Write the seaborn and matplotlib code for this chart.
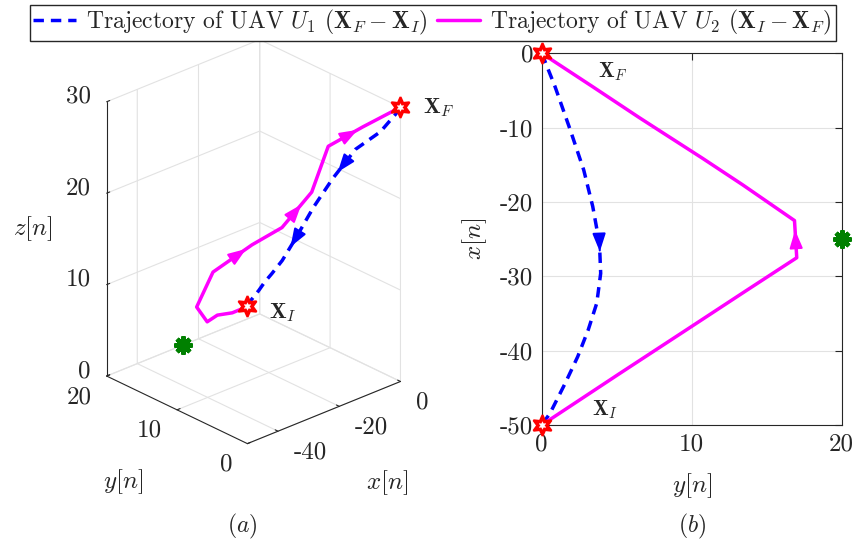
import numpy as np
import matplotlib
matplotlib.use("Agg")
import matplotlib.pyplot as plt
import seaborn as sns
from matplotlib.patches import FancyArrowPatch
from matplotlib.text import Annotation
from mpl_toolkits.mplot3d import proj3d

# UAV U1 trajectory (blue, X_F -> X_I)
u1_x = [0, -1.1, -4.5, -10.3, -15.7, -20.6, -25.6, -29.6, -33.6, -37.2, -40.8, -44.4, -48.4, -50]
u1_y = [0, 0.22, 0.89, 1.9, 2.8, 3.4, 3.85, 3.93, 3.67, 3.1, 2.4, 1.56, 0.56, 0]
u1_z = [30, 29.3, 27.6, 26.1, 23.3, 20.6, 17.6, 15.8, 15.0, 14.8, 14.6, 14.7, 14.9, 15]

# UAV U2 trajectory (magenta, X_I -> X_F)
u2_x = [-50, -43.2, -36.6, -32.1, -27.5, -22.5, -17.7, -14.1, -10.6, -8.65, -4.5, 0]
u2_y = [0, 5.1, 10.1, 13.5, 17.0, 16.85, 13.4, 10.7, 8.0, 6.5, 3.4, 0]
u2_z = [15, 11.5, 8.5, 5.9, 5.6, 8.8, 12.4, 14.8, 19.2, 24.5, 27.2, 30]

pos_i = [-50, 0, 15]
pos_f = [0, 0, 30]
target = [-25, 20, 0]

# direction arrows: (segment index, fraction along the segment)
u1_arrows_3d = [(3, 0.78), (6, 0.35)]
u2_arrows_3d = [(5, 0.85), (7, 0.65), (9, 0.85)]
u1_arrows_2d = [(6, 0.27)]
u2_arrows_2d = [(4, 0.74)]

x3_ticks = [-40, -20, 0]
y3_ticks = [0, 10, 20]
z3_ticks = [0, 10, 20, 30]

lbl_u1 = r"Trajectory of UAV $U_1$ $(\mathbf{X}_F-\mathbf{X}_I)$"
lbl_u2 = r"Trajectory of UAV $U_2$ $(\mathbf{X}_I-\mathbf{X}_F)$"

BLUE = (0, 0, 1)
MAG = (1, 0, 1)
GREEN = (0, 0.5, 0)
GRID = "#e2e2e2"
STAR = (6, 1, 0)
AST = (8, 2, 0)


class Arrow3D(FancyArrowPatch):
    def __init__(self, p0, p1, **kw):
        super().__init__((0, 0), (0, 0), **kw)
        self._verts3d = np.array([p0, p1]).T

    def do_3d_projection(self, renderer=None):
        xs, ys, zs = proj3d.proj_transform(*self._verts3d, self.axes.M)
        self.set_positions((xs[0], ys[0]), (xs[1], ys[1]))
        return np.min(zs)


class Annotation3D(Annotation):
    def __init__(self, text, xyz, **kw):
        super().__init__(text, xy=(0, 0), annotation_clip=False, **kw)
        self._xyz = xyz

    def draw(self, renderer):
        x2, y2, _ = proj3d.proj_transform(*self._xyz, self.axes.M)
        self.xy = (x2, y2)
        super().draw(renderer)


def arrow_ends(xs, ys, zs, seg, t, d=0.04):
    p = np.array([xs, ys, zs], dtype=float).T
    a, b = p[seg], p[seg + 1]
    return a + (t - d) * (b - a), a + t * (b - a)


def arrow_kw(c):
    return dict(arrowstyle="-|>,head_length=0.9,head_width=0.33", mutation_scale=12,
                color=c, lw=1.5, shrinkA=0, shrinkB=0, zorder=6)


def star(ax, *pt, **kw):
    # red hexagram with a small white core
    ax.plot(*[[v] for v in pt], ls="none", marker=STAR, ms=15, mfc="red", mec="red",
            mew=1.5, zorder=8, **kw)
    ax.plot(*[[v] for v in pt], ls="none", marker=STAR, ms=5.5, mfc="white", mec="white",
            mew=0.3, zorder=9, **kw)


sns.set_style("white")
plt.rcParams["font.family"] = ["cmr10", "DejaVu Serif"]
plt.rcParams["mathtext.fontset"] = "cm"
plt.rcParams["axes.unicode_minus"] = False
plt.rcParams["font.size"] = 18
plt.rcParams["grid.color"] = GRID
plt.rcParams["grid.linewidth"] = 0.8

fig = plt.figure(figsize=(8.55, 5.46), dpi=100)

# ---------------- (a) 3D view ----------------
ax3 = fig.add_axes([0.009, 0.1056, 0.56, 0.88], projection="3d")
ax3.set_proj_type("ortho")
ax3.view_init(elev=26.2, azim=-132.6)
ax3.set_box_aspect((1, 1, 1.47), zoom=0.86)
ax3.set_xlim(-50, 0)
ax3.set_ylim(0, 20)
ax3.set_zlim(0, 30)
ax3.set_xticks(x3_ticks)
ax3.set_yticks(y3_ticks)
ax3.set_zticks(z3_ticks)
ax3.set_xticklabels([])
ax3.set_yticklabels([])
ax3.set_zticklabels([])
for axis in (ax3.xaxis, ax3.yaxis, ax3.zaxis):
    axis.set_pane_color((1, 1, 1, 0))
    axis.pane.set_edgecolor(GRID)
    axis.line.set_color("0.15")
    axis.line.set_linewidth(0.8)
    axis._axinfo["grid"].update(color=GRID, linewidth=0.8)
    axis._axinfo["tick"].update(inward_factor=0.0, outward_factor=0.25)

# tick labels placed MATLAB-like next to each tick
for v in x3_ticks:
    ax3.add_artist(Annotation3D(f"{v}", (v, 0, 0), xytext=(16, -21), textcoords="offset pixels",
                                fontsize=18, ha="left", va="center"))
for v in y3_ticks:
    ax3.add_artist(Annotation3D(f"{v}", (-50, v, 0), xytext=(-15, -21), textcoords="offset pixels",
                                fontsize=18, ha="right", va="center"))
for v in z3_ticks:
    ax3.add_artist(Annotation3D(f"{v}", (-50, 20, v), xytext=(-16, 5), textcoords="offset pixels",
                                fontsize=18, ha="right", va="center"))

ax3.plot(u1_x, u1_y, u1_z, color=BLUE, lw=2.5, ls="--", dashes=(3, 2))
ax3.plot(u2_x, u2_y, u2_z, color=MAG, lw=2.5)
for seg, t in u1_arrows_3d:
    ax3.add_artist(Arrow3D(*arrow_ends(u1_x, u1_y, u1_z, seg, t), **arrow_kw(BLUE)))
for seg, t in u2_arrows_3d:
    ax3.add_artist(Arrow3D(*arrow_ends(u2_x, u2_y, u2_z, seg, t), **arrow_kw(MAG)))
for p in (pos_i, pos_f):
    star(ax3, p[0], p[1], p[2])
ax3.plot([target[0]], [target[1]], [target[2]], ls="none", marker=AST, ms=13,
         mec=GREEN, mew=3.2)
ax3.add_artist(Annotation3D(r"$\mathbf{X}_I$", pos_i, xytext=(22, -6), textcoords="offset pixels",
                            fontsize=16, ha="left", va="center"))
ax3.add_artist(Annotation3D(r"$\mathbf{X}_F$", pos_f, xytext=(23, 0), textcoords="offset pixels",
                            fontsize=16, ha="left", va="center"))

fig.text(0.038, 0.581, r"$z[n]$", fontsize=18, ha="center", va="center")
fig.text(0.144, 0.117, r"$y[n]$", fontsize=18, ha="center", va="center")
fig.text(0.4526, 0.1154, r"$x[n]$", fontsize=18, ha="center", va="center")
fig.text(0.2836, 0.035, r"$(a)$", fontsize=17, ha="center", va="center")

# ---------------- (b) top view ----------------
ax2 = fig.add_axes([0.6336, 0.2216, 0.3509, 0.6808])
sns.lineplot(x=u1_y, y=u1_x, ax=ax2, sort=False, estimator=None, color=BLUE,
             lw=2.5, linestyle="--")
ax2.lines[-1].set_dashes((3, 2))
sns.lineplot(x=u2_y, y=u2_x, ax=ax2, sort=False, estimator=None, color=MAG, lw=2.5)
for seg, t in u1_arrows_2d:
    a, b = arrow_ends(u1_x, u1_y, u1_z, seg, t)
    ax2.annotate("", xy=(b[1], b[0]), xytext=(a[1], a[0]), arrowprops=arrow_kw(BLUE))
for seg, t in u2_arrows_2d:
    a, b = arrow_ends(u2_x, u2_y, u2_z, seg, t)
    ax2.annotate("", xy=(b[1], b[0]), xytext=(a[1], a[0]), arrowprops=arrow_kw(MAG))
for p in (pos_i, pos_f):
    star(ax2, p[1], p[0], clip_on=False)
ax2.plot([target[1]], [target[0]], ls="none", marker=AST, ms=13, mec=GREEN, mew=3.2,
         clip_on=False, zorder=8)
ax2.annotate(r"$\mathbf{X}_F$", xy=(pos_f[1], pos_f[0]), xytext=(56, -18),
             textcoords="offset pixels", fontsize=15, ha="left", va="center")
ax2.annotate(r"$\mathbf{X}_I$", xy=(pos_i[1], pos_i[0]), xytext=(50, 15),
             textcoords="offset pixels", fontsize=15, ha="left", va="center")

ax2.set_xlim(0, 20)
ax2.set_ylim(-50, 0)
ax2.set_xticks([0, 10, 20])
ax2.set_yticks([-50, -40, -30, -20, -10, 0])
ax2.grid(True, color=GRID, lw=0.8)
for s in ax2.spines.values():
    s.set_visible(True)
    s.set_color("0.15")
    s.set_linewidth(0.8)
ax2.tick_params(direction="in", length=5, width=0.8, top=True, right=True,
                labelsize=18, pad=6, color="0.15")
ax2.set_xlabel(r"$y[n]$", fontsize=18)
ax2.set_ylabel(r"$x[n]$", fontsize=18)
ax2.xaxis.set_label_coords(0.5, -0.125)
ax2.yaxis.set_label_coords(-0.176, 0.5)
fig.text(0.81, 0.035, r"$(b)$", fontsize=17, ha="center", va="center")

fig.legend(handles=ax2.lines[:2], labels=[lbl_u1, lbl_u2], loc="upper center",
           bbox_to_anchor=(0.506, 0.996), ncol=2, fontsize=17, frameon=True,
           fancybox=False, edgecolor="0.15", framealpha=1, handlelength=1.8,
           handletextpad=0.45, columnspacing=0.4, borderpad=0.15, borderaxespad=0.1)

fig.savefig("out.png", dpi=100)
